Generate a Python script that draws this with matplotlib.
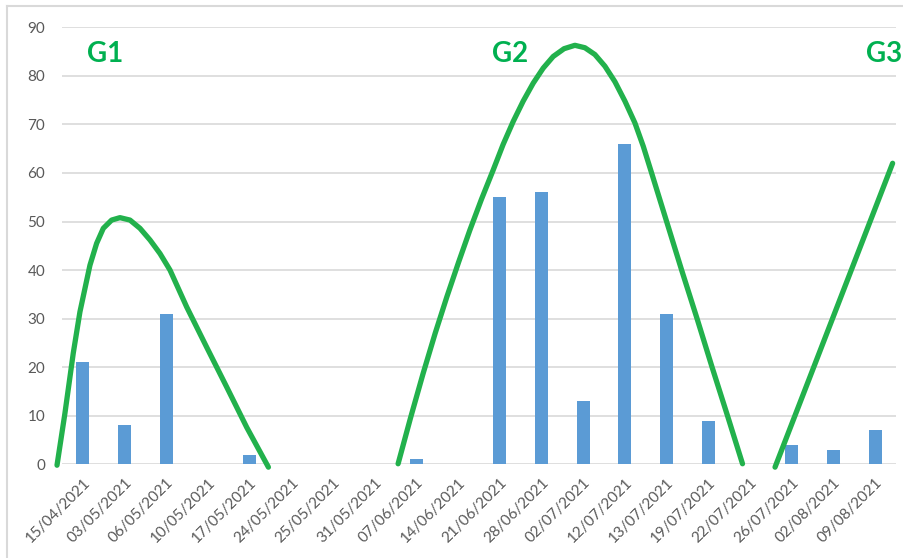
import matplotlib.pyplot as plt
from matplotlib.lines import Line2D

plt.rcParams['font.family'] = ['Lato', 'DejaVu Sans']

dates = ["15/04/2021", "03/05/2021", "06/05/2021", "10/05/2021", "17/05/2021",
         "24/05/2021", "25/05/2021", "31/05/2021", "07/06/2021", "14/06/2021",
         "21/06/2021", "28/06/2021", "02/07/2021", "12/07/2021", "13/07/2021",
         "19/07/2021", "22/07/2021", "26/07/2021", "02/08/2021", "09/08/2021"]
counts = [21, 8, 31, 0, 2, 0, 0, 0, 1, 0, 55, 56, 13, 66, 31, 9, 0, 4, 3, 7]

# hand-drawn wave outlines (category position, value)
g1_x = [-0.62, -0.43, -0.23, -0.07, 0.05, 0.17, 0.33, 0.49, 0.69, 0.89, 1.13, 1.37,
        1.61, 1.85, 2.09, 2.29, 2.49, 2.97, 3.45, 3.93, 4.45]
g1_y = [-0.2, 10.5, 22.9, 31.4, 36.2, 41.0, 45.5, 48.6, 50.3, 50.8, 50.3, 48.6,
        46.2, 43.4, 40.0, 36.2, 32.4, 24.1, 15.9, 7.6, -0.6]
g2_x = [7.56, 7.86, 8.16, 8.45, 8.73, 9.01, 9.28, 9.56, 9.84, 10.08, 10.32, 10.56,
        10.80, 11.04, 11.28, 11.54, 11.80, 12.04, 12.28, 12.52, 12.76, 13.00,
        13.24, 13.44, 13.64, 14.00, 14.36, 14.73, 15.09, 15.46, 15.82]
g2_y = [0.1, 9.6, 18.7, 27.0, 34.5, 41.6, 48.2, 54.6, 60.6, 65.9, 70.6, 74.8,
        78.5, 81.6, 84.0, 85.6, 86.3, 85.8, 84.4, 82.0, 78.8, 74.8,
        70.3, 65.5, 60.0, 50.0, 40.0, 30.0, 20.0, 10.0, 0.1]
g3_x = [16.60, 19.42]
g3_y = [-0.6, 62.0]

wave_labels = ["G1", "G2", "G3"]
label_x = [0.53, 10.24, 19.21]
label_y = [84.5, 84.5, 84.5]

fig = plt.figure(figsize=(9.04, 5.58), dpi=100)
ax = fig.add_axes([0.0686, 0.168, 0.9225, 0.783])

xs = range(len(dates))
ax.bar(xs, counts, width=0.31, color="#5B9BD5", zorder=2)

green = "#22B14C"
for gx, gy in [(g1_x, g1_y), (g2_x, g2_y), (g3_x, g3_y)]:
    ax.plot(gx, gy, color=green, lw=3.8, solid_capstyle="round",
            solid_joinstyle="round", clip_on=False, zorder=3)

for t, lx, ly in zip(wave_labels, label_x, label_y):
    ax.text(lx, ly, t, color="#00B050", fontsize=20, fontweight="bold",
            ha="center", va="center", clip_on=False, zorder=4)

ax.set_xlim(-0.5, len(dates) - 0.5)
ax.set_ylim(0, 90)
ax.set_yticks(range(0, 91, 10))
ax.set_xticks(list(xs))
ax.set_xticklabels(dates, rotation=45, ha="right", rotation_mode="anchor")
ax.tick_params(axis="both", length=0, colors="#595959", labelsize=11)
ax.tick_params(axis="y", pad=12)
ax.tick_params(axis="x", pad=8)
ax.grid(axis="y", color="#D9D9D9", lw=1.2, zorder=0)
ax.set_axisbelow(True)
for s in ax.spines.values():
    s.set_visible(False)

# outer chart border (top and left visible in the crop)
fig.add_artist(Line2D([7 / 904, 7 / 904], [0, 1 - 6 / 558], color="#D9D9D9", lw=1.5))
fig.add_artist(Line2D([7 / 904, 1], [1 - 6 / 558, 1 - 6 / 558], color="#D9D9D9", lw=1.5))

fig.savefig("out.png", dpi=100)
